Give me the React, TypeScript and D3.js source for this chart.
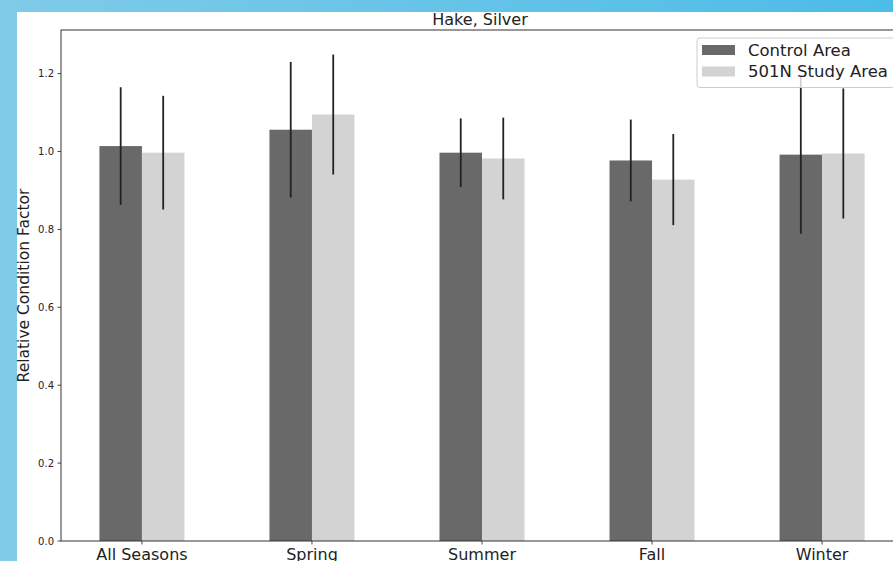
import React from "react";
import * as d3 from "d3";

// Relative condition factor of silver hake by season
const categories = ["All Seasons", "Spring", "Summer", "Fall", "Winter"];
const seriesNames = ["Control Area", "501N Study Area"];
const controlValues = [1.014, 1.056, 0.997, 0.977, 0.992];
const controlErrors = [0.151, 0.174, 0.088, 0.105, 0.203];
const studyValues = [0.997, 1.095, 0.982, 0.928, 0.995];
const studyErrors = [0.146, 0.154, 0.105, 0.117, 0.167];
const yTicks = [0, 0.2, 0.4, 0.6, 0.8, 1.0, 1.2];
const seriesColors = ["#696969", "#d3d3d3"];

const W = 893;
const H = 561;
const FONT = "'DejaVu Sans', sans-serif";

const plot = { left: 61, right: 903, top: 30, bottom: 541 };

export default function App() {
  const x = d3
    .scaleLinear()
    .domain([-0.476, categories.length - 1 + 0.476])
    .range([plot.left, plot.right]);
  const y = d3.scaleLinear().domain([0, 1.312]).range([plot.bottom, plot.top]);
  const barW = x(0.25) - x(0);

  const series = [
    { name: seriesNames[0], values: controlValues, errors: controlErrors, offset: -0.125, color: seriesColors[0] },
    { name: seriesNames[1], values: studyValues, errors: studyErrors, offset: 0.125, color: seriesColors[1] },
  ];

  const fmt = d3.format(".1f");

  return (
    <div style={{ position: "fixed", left: 0, top: 0 }}>
      <svg width={W} height={H} style={{ display: "block" }}>
        <defs>
          <linearGradient id="topBand" x1="0" x2="1" y1="0" y2="0">
            <stop offset="0" stopColor="#7fcbe8" />
            <stop offset="1" stopColor="#4cbce8" />
          </linearGradient>
          <clipPath id="plotClip">
            <rect x={plot.left} y={plot.top} width={plot.right - plot.left} height={plot.bottom - plot.top} />
          </clipPath>
        </defs>
        <rect x={0} y={0} width={W} height={H} fill="#ffffff" />
        <rect x={0} y={0} width={W} height={12} fill="url(#topBand)" />
        <rect x={0} y={0} width={17} height={H} fill="#7fcbe8" />

        {/* title */}
        <text x={(plot.left + plot.right) / 2 - 2} y={25} textAnchor="middle" fontFamily={FONT} fontSize={16} fill="#222">
          Hake, Silver
        </text>

        {/* bars */}
        <g clipPath="url(#plotClip)">
          {series.map((s) =>
            s.values.map((v, i) => (
              <rect
                key={s.name + i}
                x={x(i + s.offset) - barW / 2}
                y={y(v)}
                width={barW}
                height={y(0) - y(v)}
                fill={s.color}
              />
            ))
          )}
          {series.map((s) =>
            s.values.map((v, i) => (
              <line
                key={"e" + s.name + i}
                x1={x(i + s.offset)}
                x2={x(i + s.offset)}
                y1={y(v - s.errors[i])}
                y2={y(v + s.errors[i])}
                stroke="#222"
                strokeWidth={1.8}
              />
            ))
          )}
        </g>

        {/* frame */}
        <rect
          x={plot.left}
          y={plot.top}
          width={plot.right - plot.left}
          height={plot.bottom - plot.top}
          fill="none"
          stroke="#333"
          strokeWidth={1}
        />

        {/* y axis */}
        {yTicks.map((t) => (
          <g key={t} transform={`translate(0,${y(t)})`}>
            <line x1={plot.left - 3.5} x2={plot.left} stroke="#333" strokeWidth={0.9} />
            <text x={plot.left - 7} dy="0.35em" textAnchor="end" fontFamily={FONT} fontSize={10} fill="#222">
              {fmt(t)}
            </text>
          </g>
        ))}
        <text
          transform={`translate(29,${(plot.top + plot.bottom) / 2}) rotate(-90)`}
          textAnchor="middle"
          fontFamily={FONT}
          fontSize={15.5}
          fill="#222"
        >
          Relative Condition Factor
        </text>

        {/* x axis */}
        {categories.map((c, i) => (
          <g key={c} transform={`translate(${x(i)},0)`}>
            <line y1={plot.bottom} y2={plot.bottom + 3.5} stroke="#333" strokeWidth={0.9} />
            <text y={560} textAnchor="middle" fontFamily={FONT} fontSize={16} fill="#222">
              {c}
            </text>
          </g>
        ))}

        {/* legend */}
        <g>
          <rect x={697} y={38} width={198.5} height={49.5} rx={3} fill="#ffffff" fillOpacity={0.8} stroke="#cccccc" strokeWidth={1} />
          {series.map((s, k) => (
            <g key={s.name} transform={`translate(0,${k * 21.5})`}>
              <rect x={702} y={45} width={33} height={10} fill={s.color} />
              <text x={748} y={55.5} fontFamily={FONT} fontSize={16.5} fill="#222">
                {s.name}
              </text>
            </g>
          ))}
        </g>
      </svg>
    </div>
  );
}
